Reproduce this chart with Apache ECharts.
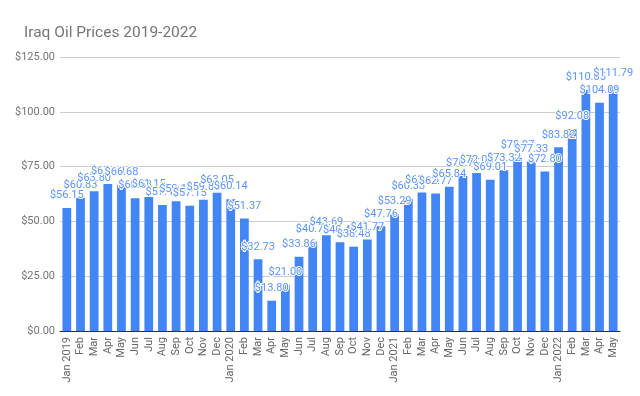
<!DOCTYPE html>
<html>
<head>
<meta charset="utf-8">
<script src="https://cdn.jsdelivr.net/npm/echarts@6/dist/echarts.min.js"></script>
<style>
  html, body { margin: 0; padding: 0; background: #fff; }
  #chart { width: 640px; height: 396px; }
</style>
</head>
<body>
<div id="chart"></div>
<script>
// months, Jan 2019 - May 2022
var months = [
  'Jan 2019', 'Feb', 'Mar', 'Apr', 'May', 'Jun', 'Jul', 'Aug', 'Sep', 'Oct', 'Nov', 'Dec',
  'Jan 2020', 'Feb', 'Mar', 'Apr', 'May', 'Jun', 'Jul', 'Aug', 'Sep', 'Oct', 'Nov', 'Dec',
  'Jan 2021', 'Feb', 'Mar', 'Apr', 'May', 'Jun', 'Jul', 'Aug', 'Sep', 'Oct', 'Nov', 'Dec',
  'Jan 2022', 'Feb', 'Mar', 'Apr', 'May'
];

// price per barrel, USD
var prices = [
  56.15, 60.83, 63.80, 67.10, 66.68, 60.58, 61.15, 57.45, 59.15, 57.15, 59.85, 63.05,
  60.14, 51.37, 32.73, 13.80, 21.00, 33.86, 40.75, 43.69, 40.45, 38.48, 41.77, 47.76,
  53.29, 60.33, 63.15, 62.77, 65.84, 70.75, 72.05, 69.01, 73.32, 78.97, 77.33, 72.80,
  83.82, 92.08, 110.05, 104.09, 111.79
];

var yTicks = [0, 25, 50, 75, 100, 125];

var chart = echarts.init(document.getElementById('chart'));

var option = {
  animation: false,
  title: {
    text: 'Iraq Oil Prices 2019-2022',
    left: 19,
    top: 20,
    textStyle: {
      fontFamily: 'Roboto',
      fontSize: 15.5,
      fontWeight: 'normal',
      color: '#757575'
    }
  },
  grid: {
    left: 60,
    right: 20,
    top: 57,
    bottom: 65
  },
  xAxis: {
    type: 'category',
    data: months,
    axisTick: { show: false },
    axisLine: { lineStyle: { color: '#333', width: 1 } },
    axisLabel: {
      interval: 0,
      rotate: 90,
      fontFamily: 'Roboto',
      fontSize: 11,
      color: '#666',
      margin: 6
    }
  },
  yAxis: {
    type: 'value',
    min: yTicks[0],
    max: yTicks[yTicks.length - 1],
    interval: 25,
    axisLine: { show: false },
    axisTick: { show: false },
    splitLine: { lineStyle: { color: '#ccc' } },
    axisLabel: {
      fontFamily: 'Roboto',
      fontSize: 11,
      color: '#757575',
      margin: 5,
      formatter: function (v) { return '$' + v.toFixed(2); }
    }
  },
  series: [
    {
      type: 'bar',
      data: prices,
      barCategoryGap: '36%',
      itemStyle: { color: '#4285f4' },
      label: {
        show: true,
        position: 'top',
        distance: 7,
        fontFamily: 'Roboto',
        fontSize: 11,
        color: '#5b95f5',
        textBorderColor: '#fff',
        textBorderWidth: 2,
        formatter: function (p) { return '$' + p.value.toFixed(2); }
      }
    }
  ]
};

chart.setOption(option);
</script>
</body>
</html>
